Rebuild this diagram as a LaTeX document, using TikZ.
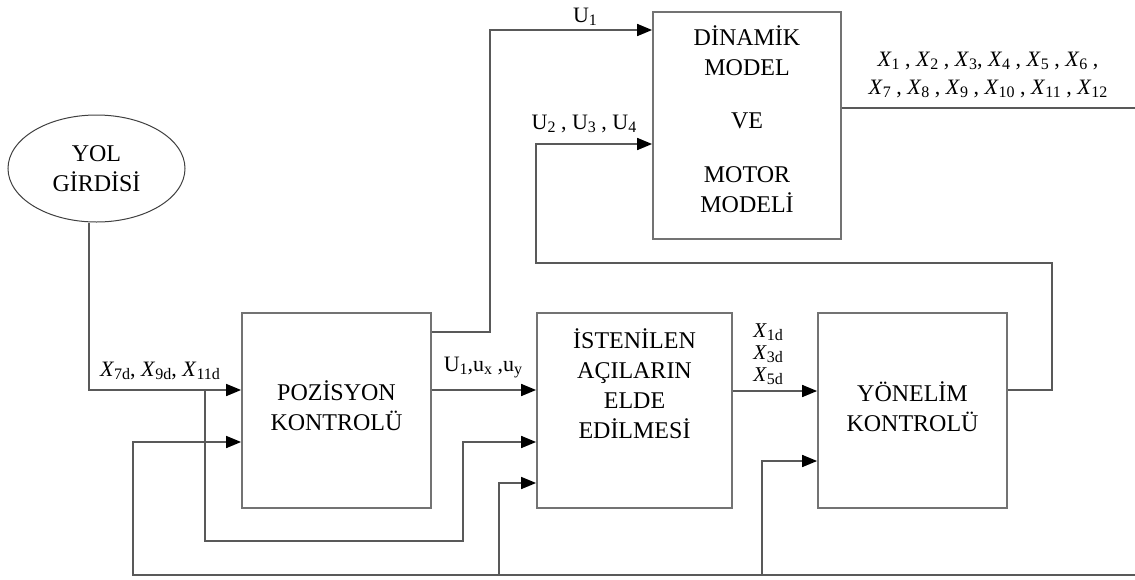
\documentclass[tikz,border=0pt]{standalone}
\usepackage{fontspec}
\setmainfont{Liberation Serif}
\usetikzlibrary{arrows.meta,shapes.geometric}
\newcommand\sbx[1]{\raisebox{-0.3ex}{\fontsize{16}{16}\selectfont #1}}
\newcommand\Xv[1]{\textit{X}\sbx{#1}}
\begin{document}
\begin{tikzpicture}[x=1pt,y=-1pt,
  box/.style={draw=black!55,line width=1.8pt,inner sep=0pt},
  txt/.style={align=center,font=\fontsize{24}{30}\selectfont,inner sep=0pt},
  lbl/.style={align=center,font=\fontsize{22}{24}\selectfont,inner sep=0pt},
  wire/.style={draw=black!65,line width=1.7pt},
  arr/.style={wire,-{Triangle[length=15pt,width=12pt,black]}}]
\useasboundingbox (0,0) rectangle (1135,579);
% blocks
\node[box,minimum width=189pt,minimum height=195pt] (pos) at (336.5,410.5) {};
\node[box,minimum width=195pt,minimum height=195pt] (ist) at (634.5,410.5) {};
\node[box,minimum width=189pt,minimum height=195pt] (yon) at (912.5,410.5) {};
\node[box,minimum width=188pt,minimum height=227pt] (din) at (747,125.5) {};
\node[ellipse,draw=black!75,line width=1pt,minimum width=177pt,minimum height=107pt,inner sep=0pt] (yol) at (96.5,168.5) {};
% texts
\node[txt] (tyol) at (96.5,168.5) {YOL\\GİRDİSİ};
\node[txt] (tpos) at (336.5,406) {POZİSYON\\KONTROLÜ};
\node[txt] (tist) at (634.5,383.5) {İSTENİLEN\\AÇILARIN\\ELDE\\EDİLMESİ};
\node[txt] (tyon) at (912.5,407) {YÖNELİM\\KONTROLÜ};
\node[txt] (tdin1) at (747,51) {DİNAMİK\\MODEL};
\node[txt] (tdin2) at (747,121) {VE};
\node[txt] (tdin3) at (747,190) {MOTOR\\MODELİ};
% junctions
\coordinate (j1) at (205,390);
\coordinate (botR) at (1135,575);
\coordinate (outR) at (1135,108);
% connectors
\draw[arr] ([xshift=-7.5pt]yol.south) |- (pos.west|-0,390);
\draw[arr] (j1) -- (205,541) -| (463,442) -- (ist.west|-0,442);
\draw[arr] (botR) -- (133,575) |- (pos.west|-0,442);
\draw[arr] (499,575) |- (ist.west|-0,483);
\draw[arr] (762,575) |- (yon.west|-0,461);
\draw[arr] (pos.east|-0,390) -- (ist.west|-0,390);
\draw[arr] (pos.east|-0,332) -| (490,30) -- (din.west|-0,30);
\draw[arr] (ist.east|-0,391) -- (yon.west|-0,391);
\draw[arr] (yon.east|-0,390) -| (1052,263) -| (536,144) -- (din.west|-0,144);
\draw[wire] (din.east|-0,108) -- (outR);
% labels
\node[lbl] (l1) at (585,17) {U\sbx{1}};
\node[lbl] (l2) at (584,124) {U\sbx{2} , U\sbx{3} , U\sbx{4}};
\node[lbl] (l3) at (483,368) {U\sbx{1},u\sbx{x} ,u\sbx{y}};
\node[lbl] (l4) at (160,371) {\Xv{7d}, \Xv{9d}, \Xv{11d}};
\node[lbl,font=\fontsize{21}{22}\selectfont] (l5) at (768,354) {\Xv{1d}\\\Xv{3d}\\\Xv{5d}};
\node[lbl,font=\fontsize{22}{28}\selectfont] (l6) at (988,75) {\Xv{1} , \Xv{2} , \Xv{3}, \Xv{4} , \Xv{5} , \Xv{6} ,\\\Xv{7} , \Xv{8} , \Xv{9} , \Xv{10} , \Xv{11} , \Xv{12}};
\end{tikzpicture}
\end{document}
